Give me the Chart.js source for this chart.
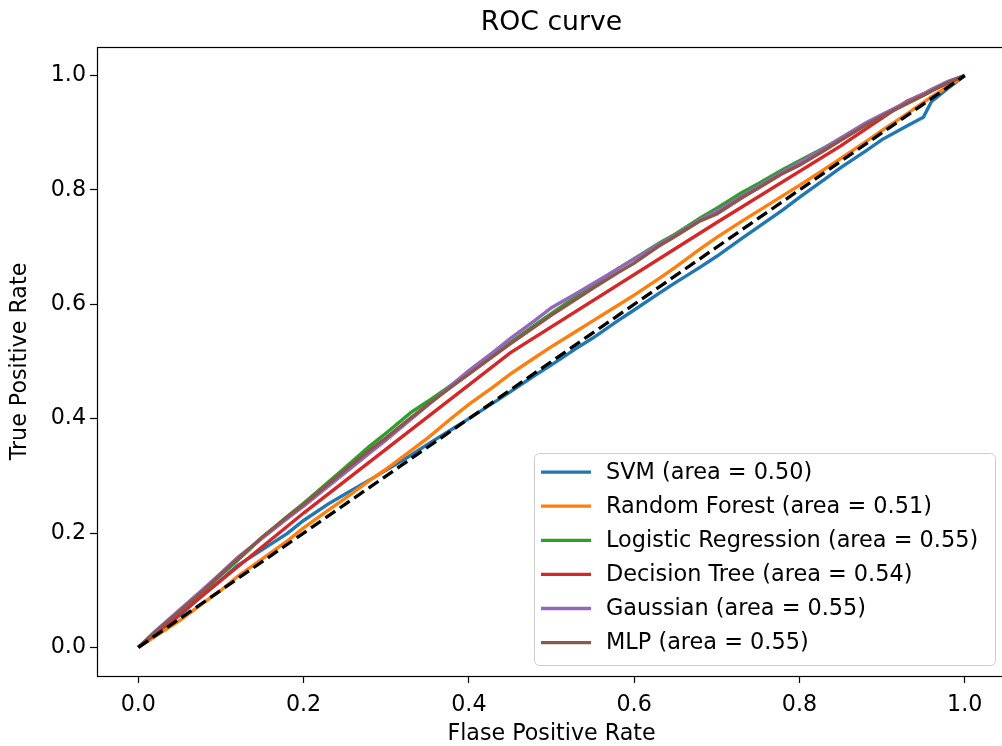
<!DOCTYPE html>
<html>
<head>
<meta charset="utf-8">
<title>ROC curve</title>
<script src="https://cdn.jsdelivr.net/npm/chart.js@4/dist/chart.umd.min.js"></script>
<style>
  html, body { margin: 0; padding: 0; background: #fff; overflow: hidden; }
  #rocChart { display: block; }
</style>
</head>
<body>
<canvas id="rocChart" width="1008" height="746"></canvas>
<script>
// Model names and their AUC values (shown in the legend)
const modelNames = ['SVM', 'Random Forest', 'Logistic Regression', 'Decision Tree', 'Gaussian', 'MLP'];
const modelAuc = [0.50, 0.51, 0.55, 0.54, 0.55, 0.55];
const modelColors = ['#1f77b4', '#ff7f0e', '#2ca02c', '#d62728', '#9467bd', '#8c564b'];

// False positive rates shared by the noisy curves
const fpr = [0, 0.02, 0.05, 0.08, 0.10, 0.12, 0.15, 0.18, 0.20, 0.23, 0.25, 0.28, 0.30, 0.33, 0.35, 0.38, 0.40,
  0.43, 0.45, 0.48, 0.50, 0.53, 0.55, 0.58, 0.60, 0.63, 0.65, 0.68, 0.70, 0.73, 0.75, 0.78, 0.80, 0.83, 0.85,
  0.88, 0.90, 0.93, 0.95, 0.96, 0.98, 1.00];

// True positive rates
const svmTpr = [0, 0.024, 0.056, 0.094, 0.118, 0.143, 0.171, 0.199, 0.222, 0.251, 0.268, 0.293, 0.310, 0.336,
  0.355, 0.382, 0.400, 0.428, 0.447, 0.476, 0.494, 0.523, 0.541, 0.571, 0.590, 0.619, 0.638, 0.665, 0.684,
  0.715, 0.735, 0.765, 0.787, 0.818, 0.839, 0.868, 0.888, 0.912, 0.927, 0.955, 0.978, 1];
const rfTpr = [0, 0.019, 0.047, 0.079, 0.100, 0.124, 0.155, 0.186, 0.209, 0.240, 0.260, 0.292, 0.312, 0.344,
  0.366, 0.402, 0.425, 0.456, 0.478, 0.507, 0.526, 0.553, 0.571, 0.598, 0.616, 0.645, 0.665, 0.697, 0.717,
  0.745, 0.763, 0.790, 0.808, 0.836, 0.855, 0.884, 0.904, 0.933, 0.953, 0.963, 0.981, 1];
const lrTpr = [0, 0.025, 0.062, 0.100, 0.126, 0.152, 0.192, 0.229, 0.252, 0.289, 0.314, 0.352, 0.375, 0.411,
  0.430, 0.460, 0.480, 0.512, 0.533, 0.564, 0.584, 0.614, 0.633, 0.662, 0.680, 0.707, 0.723, 0.751, 0.768,
  0.795, 0.811, 0.836, 0.851, 0.874, 0.890, 0.915, 0.930, 0.952, 0.966, 0.974, 0.989, 1];
const gnbTpr = [0, 0.028, 0.066, 0.104, 0.130, 0.157, 0.191, 0.225, 0.247, 0.282, 0.305, 0.340, 0.363, 0.399,
  0.423, 0.460, 0.484, 0.517, 0.540, 0.572, 0.594, 0.619, 0.636, 0.662, 0.679, 0.705, 0.721, 0.748, 0.763,
  0.789, 0.806, 0.832, 0.848, 0.873, 0.891, 0.917, 0.932, 0.954, 0.968, 0.976, 0.990, 1];
const mlpTpr = [0, 0.026, 0.063, 0.101, 0.128, 0.154, 0.193, 0.228, 0.250, 0.286, 0.310, 0.345, 0.367, 0.402,
  0.424, 0.457, 0.478, 0.510, 0.531, 0.561, 0.581, 0.609, 0.628, 0.655, 0.672, 0.702, 0.719, 0.746, 0.758,
  0.786, 0.803, 0.829, 0.843, 0.869, 0.887, 0.913, 0.929, 0.951, 0.965, 0.973, 0.988, 1];

// Decision tree has only a few thresholds
const dtFpr = [0, 0.05, 0.20, 0.45, 0.70, 0.85, 0.93, 1];
const dtTpr = [0, 0.058, 0.235, 0.515, 0.743, 0.877, 0.955, 1];

// Chance line and tick values
const chanceX = [0, 1];
const chanceY = [0, 1];
const xTicks = [0, 0.2, 0.4, 0.6, 0.8, 1.0];
const yTicks = [0, 0.2, 0.4, 0.6, 0.8, 1.0];

const FONT = 'DejaVu Sans';
Chart.defaults.font.family = FONT;
Chart.defaults.color = '#000';

function toPoints(xs, ys) {
  return xs.map((x, i) => ({ x: x, y: ys[i] }));
}

const curveX = [fpr, fpr, fpr, dtFpr, fpr, fpr];
const curveY = [svmTpr, rfTpr, lrTpr, dtTpr, gnbTpr, mlpTpr];

const datasets = modelNames.map((name, i) => ({
  label: name + ' (area = ' + modelAuc[i].toFixed(2) + ')',
  data: toPoints(curveX[i], curveY[i]),
  borderColor: modelColors[i],
  borderWidth: 3.4,
  pointRadius: 0,
  fill: false,
  tension: 0,
  order: modelNames.length - i   // later models drawn on top
}));
datasets.push({
  label: '',
  data: toPoints(chanceX, chanceY),
  borderColor: '#000',
  borderWidth: 3.3,
  borderDash: [12, 5.5],
  pointRadius: 0,
  fill: false,
  order: 0
});

// Title, axis labels, frame and the legend box, matplotlib style
const decorations = {
  id: 'decorations',
  afterDatasetsDraw(chart) {
    const ctx = chart.ctx;
    const a = chart.chartArea;
    ctx.save();

    // frame
    ctx.strokeStyle = '#000';
    ctx.lineWidth = 1.2;
    ctx.strokeRect(Math.round(a.left) + 0.5, Math.round(a.top) + 0.5,
      Math.round(a.right - a.left), Math.round(a.bottom - a.top));

    // title
    const cx = (a.left + a.right) / 2;
    ctx.fillStyle = '#000';
    ctx.textAlign = 'center';
    ctx.textBaseline = 'middle';
    ctx.font = '26.7px ' + FONT;
    ctx.fillText('ROC curve', cx, 23);

    // axis titles
    ctx.font = '22.2px ' + FONT;
    ctx.fillText('Flase Positive Rate', cx, 734);
    ctx.save();
    ctx.translate(20, (a.top + a.bottom) / 2);
    ctx.rotate(-Math.PI / 2);
    ctx.fillText('True Positive Rate', 0, 0);
    ctx.restore();

    // legend (lower right)
    const items = chart.data.datasets.filter(d => d.label);
    const right = a.right - 11;
    const bottom = a.bottom - 11;
    const left = right - 461;
    const rowH = 34.1;
    const top = bottom - (items.length - 1) * rowH - 41.4;
    ctx.beginPath();
    ctx.roundRect(left + 0.5, top + 0.5, right - left, bottom - top, 5);
    ctx.fillStyle = 'rgba(255,255,255,0.8)';
    ctx.fill();
    ctx.strokeStyle = '#cccccc';
    ctx.lineWidth = 1;
    ctx.stroke();

    ctx.textAlign = 'left';
    ctx.textBaseline = 'middle';
    ctx.font = '22.4px ' + FONT;
    items.forEach((d, i) => {
      const y = top + 19 + i * rowH;
      ctx.strokeStyle = d.borderColor;
      ctx.lineWidth = 3.3;
      ctx.beginPath();
      ctx.moveTo(left + 7, y);
      ctx.lineTo(left + 57, y);
      ctx.stroke();
      ctx.fillStyle = '#000';
      ctx.fillText(d.label, left + 72, y + 1);
    });
    ctx.restore();
  }
};

const ctx = document.getElementById('rocChart').getContext('2d');
new Chart(ctx, {
  type: 'line',
  data: { datasets: datasets },
  plugins: [decorations],
  options: {
    responsive: false,
    animation: false,
    devicePixelRatio: 1,
    layout: { padding: { top: 47, right: 2, left: 0, bottom: 0 } },
    plugins: {
      legend: { display: false },
      title: { display: false },
      tooltip: { enabled: false }
    },
    scales: {
      x: {
        type: 'linear',
        min: -0.05,
        max: 1.05,
        afterFit: s => { s.height = 70; },
        afterBuildTicks: s => { s.ticks = xTicks.map(v => ({ value: v })); },
        ticks: {
          callback: v => Number(v).toFixed(1),
          font: { size: 22.2 },
          padding: 9,
          maxRotation: 0,
          autoSkip: false
        },
        grid: { drawOnChartArea: false, tickLength: 7, tickColor: '#000', tickWidth: 1.2 },
        border: { display: false }
      },
      y: {
        type: 'linear',
        min: -0.05,
        max: 1.05,
        afterFit: s => { s.width = 97; },
        afterBuildTicks: s => { s.ticks = yTicks.map(v => ({ value: v })); },
        ticks: {
          callback: v => Number(v).toFixed(1),
          font: { size: 22.2 },
          padding: 4,
          autoSkip: false
        },
        grid: { drawOnChartArea: false, tickLength: 7, tickColor: '#000', tickWidth: 1.2 },
        border: { display: false }
      }
    }
  }
});
</script>
</body>
</html>
